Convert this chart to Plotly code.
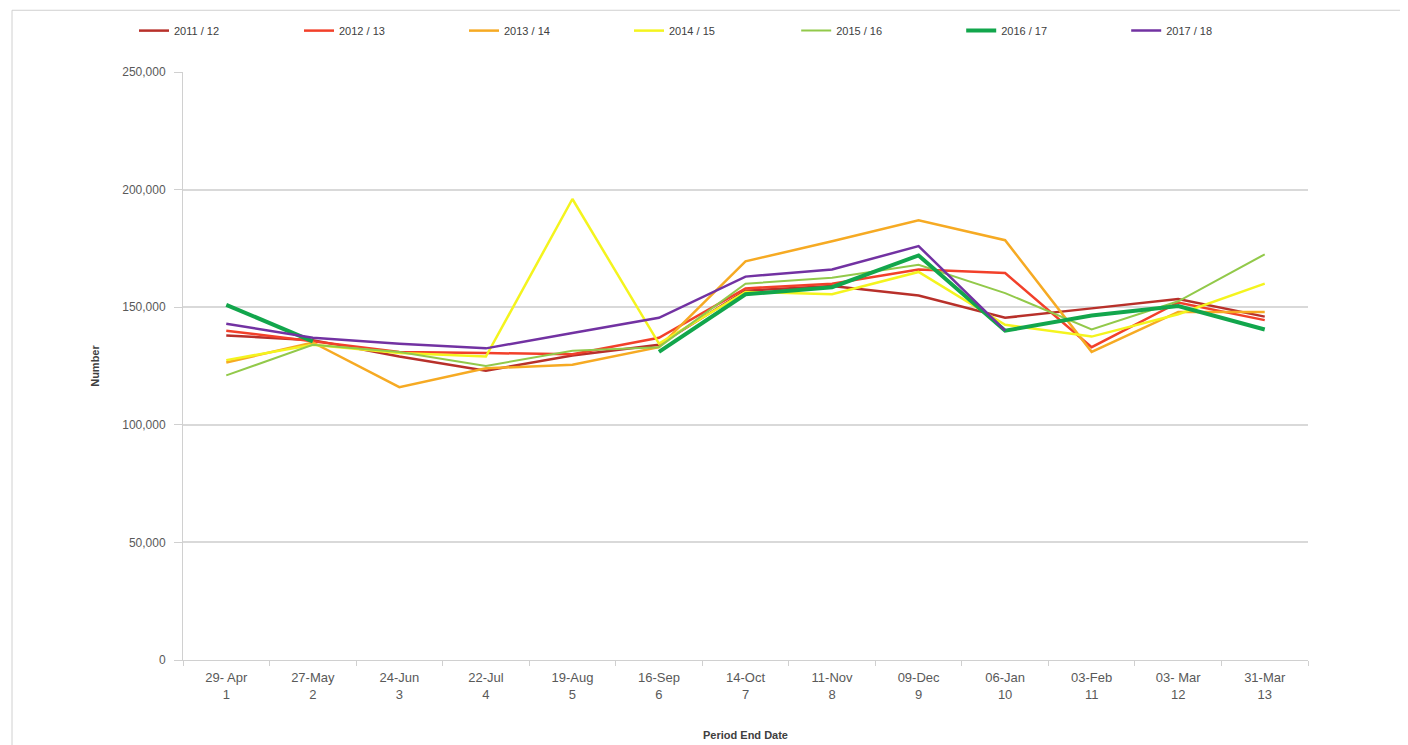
import plotly.graph_objects as go

# period end dates (category labels) and period numbers
dates = ["29- Apr", "27-May", "24-Jun", "22-Jul", "19-Aug", "16-Sep", "14-Oct",
         "11-Nov", "09-Dec", "06-Jan", "03-Feb", "03- Mar", "31-Mar"]
periods = list(range(1, 14))

y2011 = [138000, 136000, 129000, 123000, 129500, 134000, 157000, 159000, 155000, 145500, 149500, 153500, 146000]
y2012 = [140000, 135500, 131000, 130500, 130000, 137000, 158000, 160000, 166000, 164500, 133000, 152000, 144500]
y2013 = [126500, 135000, 116000, 124000, 125500, 133000, 169500, 178000, 187000, 178500, 131000, 148000, 148000]
y2014 = [127500, 134000, 130500, 129000, 196000, 134500, 156500, 155500, 165000, 142500, 137500, 147000, 160000]
y2015 = [121000, 134000, 131000, 125000, 131500, 133000, 160000, 162500, 168000, 156000, 140500, 152500, 172500]
y2016 = [151000, 135500, None, None, None, 131000, 155500, 158500, 172000, 140000, 146500, 150500, 140500]
y2017 = [143000, 137000, 134500, 132500, 139000, 145500, 163000, 166000, 176000, 140000, None, None, None]

years = ["2011 / 12", "2012 / 13", "2013 / 14", "2014 / 15", "2015 / 16", "2016 / 17", "2017 / 18"]
values = [y2011, y2012, y2013, y2014, y2015, y2016, y2017]
colors = ["#B8302A", "#F2402A", "#F6AA23", "#F4F41E", "#92C94A", "#12A64C", "#7232A2"]
widths = [2.5, 2.5, 2.5, 2.5, 2, 4, 2.5]

cats = [f"{d}<br>{p}" for d, p in zip(dates, periods)]

FONT = "Liberation Sans, Arial, sans-serif"

fig = go.Figure()
for i, (name, vals, col, w) in enumerate(zip(years, values, colors, widths)):
    fig.add_trace(go.Scatter(
        x=cats, y=vals, mode="lines", name=name,
        line=dict(color=col, width=w),
        connectgaps=False,
        # legend split in two pieces so a single row never wraps
        legend="legend" if i < 4 else "legend2",
    ))

leg_style = dict(orientation="h", xref="container", yref="container",
                 y=0.989, xanchor="left", yanchor="top",
                 entrywidth=120, font=dict(size=11, color="#404040"),
                 bgcolor="rgba(0,0,0,0)")

# page body adds an 8px margin, so the figure is sized 8px smaller
fig.update_layout(
    width=1400, height=737,
    paper_bgcolor="white", plot_bgcolor="white",
    margin=dict(l=175, r=100, t=64, b=85),
    font=dict(family=FONT, size=12, color="#595959"),
    showlegend=True,
    legend=dict(x=0.09, **leg_style),
    legend2=dict(x=0.563, **leg_style),
    shapes=[dict(type="rect", xref="paper", yref="paper",
                 x0=-0.152, x1=1.12, y0=-0.2, y1=1.105,
                 line=dict(color="#D0D0D0", width=1), fillcolor="rgba(0,0,0,0)",
                 layer="below")],
)

fig.update_xaxes(
    type="category", range=[-0.5, 12.5], tickson="boundaries", ticks="outside", ticklen=5,
    tickcolor="#D0D0D0", showline=True, linecolor="#D0D0D0", linewidth=1,
    ticklabelstandoff=5,
    showgrid=False, tickfont=dict(size=13, color="#595959"), automargin=False,
    title=dict(text="<b>Period End Date</b>", font=dict(size=11, color="#404040"), standoff=30),
)
fig.update_yaxes(
    range=[0, 250000], tickvals=[0, 50000, 100000, 150000, 200000, 250000],
    tickformat=",", ticks="outside", ticklen=8, tickcolor="#D0D0D0",
    ticklabelstandoff=6,
    showline=True, linecolor="#D0D0D0", linewidth=1,
    showgrid=True, gridcolor="#D9D9D9", gridwidth=1.5, zeroline=False,
    tickfont=dict(size=12, color="#595959"), automargin=False,
    title=dict(text="<b>Number</b>", font=dict(size=11, color="#404040"), standoff=20),
)

fig.write_html("out.html")
